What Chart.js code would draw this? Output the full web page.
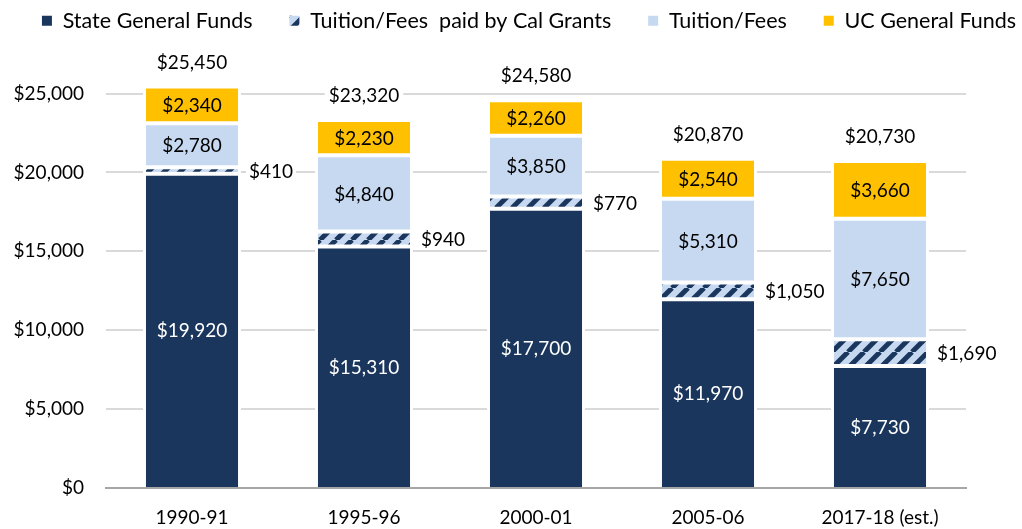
<!DOCTYPE html>
<html>
<head>
<meta charset="utf-8">
<script src="https://cdn.jsdelivr.net/npm/chart.js@4.4.0/dist/chart.umd.min.js"></script>
<style>
    html, body { margin: 0; padding: 0; background: #fff; }
    #wrap { width: 1022px; height: 529px; }
</style>
</head>
<body>
<div id="wrap"><canvas id="fundChart"></canvas></div>
<script>
const years = ['1990-91', '1995-96', '2000-01', '2005-06', '2017-18 (est.)'];
const stateFunds = [19920, 15310, 17700, 11970, 7730];
const calGrants = [410, 940, 770, 1050, 1690];
const tuitionFees = [2780, 4840, 3850, 5310, 7650];
const ucFunds = [2340, 2230, 2260, 2540, 3660];
const totals = [25450, 23320, 24580, 20870, 20730];
const yTicks = [0, 5000, 10000, 15000, 20000, 25000];

const NAVY = '#1b365d';
const LIGHT = '#c6d9f1';
const GOLD = '#ffc000';
const FONT = 'Lato';
const LEGEND_GAP = '\u2003\u2002'; // extra room after each legend entry

function fmt(v) {
    return '$' + v.toLocaleString('en-US');
}

function makeHatch() {
    const c = document.createElement('canvas');
    c.width = 16; c.height = 16;
    const g = c.getContext('2d');
    g.fillStyle = LIGHT;
    g.fillRect(0, 0, 16, 16);
    g.strokeStyle = NAVY;
    g.lineWidth = 5;
    g.beginPath();
    for (let k = -16; k <= 32; k += 16) {
        g.moveTo(k, 16);
        g.lineTo(k + 16, 0);
    }
    g.stroke();
    return g.createPattern(c, 'repeat');
}

// legend sits a bit right of the canvas centre in the original
const legendShift = {
    id: 'legendShift',
    afterLayout(chart) {
        chart.legend.left += 18;
        chart.legend.right += 18;
    }
};

// value labels inside / beside the bars, plus totals on top
const barLabels = {
    id: 'barLabels',
    afterDatasetsDraw(chart) {
        const ctx = chart.ctx;
        ctx.save();
        ctx.font = '19px ' + FONT;
        ctx.textBaseline = 'middle';
        chart.data.datasets.forEach((ds, di) => {
            const meta = chart.getDatasetMeta(di);
            meta.data.forEach((bar, i) => {
                const p = bar.getProps(['x', 'y', 'base', 'width'], true);
                const midY = (p.y + p.base) / 2;
                const txt = fmt(ds.data[i]);
                if (di === 1) {
                    const tx = p.x + p.width / 2 + 8;
                    const w = ctx.measureText(txt).width;
                    ctx.fillStyle = '#fff';
                    ctx.fillRect(tx - 3, midY - 11, w + 6, 22);
                    ctx.fillStyle = '#000';
                    ctx.textAlign = 'left';
                    ctx.fillText(txt, tx, midY + 1);
                } else {
                    ctx.fillStyle = di === 0 ? '#fff' : '#000';
                    ctx.textAlign = 'center';
                    ctx.fillText(txt, p.x, midY + 1);
                }
            });
        });
        const topMeta = chart.getDatasetMeta(3);
        topMeta.data.forEach((bar, i) => {
            const p = bar.getProps(['x', 'y'], true);
            const txt = fmt(totals[i]);
            const w = ctx.measureText(txt).width;
            const ty = p.y - 24;
            ctx.fillStyle = '#fff';
            ctx.fillRect(p.x - w / 2 - 4, ty - 11, w + 8, 22);
            ctx.fillStyle = '#000';
            ctx.textAlign = 'center';
            ctx.fillText(txt, p.x, ty);
        });
        ctx.restore();
    }
};

const segBorder = { top: 2, bottom: 2, left: 3, right: 3 };

new Chart(document.getElementById('fundChart'), {
    type: 'bar',
    data: {
        labels: years,
        datasets: [
            { label: 'State General Funds', data: stateFunds, backgroundColor: NAVY, borderSkipped: 'start' },
            { label: 'Tuition/Fees  paid by Cal Grants', data: calGrants, backgroundColor: makeHatch(), borderSkipped: false },
            { label: 'Tuition/Fees', data: tuitionFees, backgroundColor: LIGHT, borderSkipped: false },
            { label: 'UC General Funds', data: ucFunds, backgroundColor: GOLD, borderSkipped: false }
        ]
    },
    options: {
        responsive: true,
        maintainAspectRatio: false,
        animation: false,
        datasets: {
            bar: {
                borderColor: '#fff',
                borderWidth: segBorder,
                barPercentage: 1,
                categoryPercentage: 0.57
            }
        },
        layout: { padding: 0 },
        plugins: {
            tooltip: { enabled: false },
            legend: {
                position: 'top',
                labels: {
                    boxWidth: 10,
                    boxHeight: 10,
                    padding: 10,
                    color: '#000',
                    font: { family: FONT, size: 21.5 },
                    generateLabels(chart) {
                        const n = chart.data.datasets.length;
                        return chart.data.datasets.map((ds, i) => ({
                            text: i < n - 1 ? ds.label + LEGEND_GAP : ds.label,
                            fillStyle: ds.backgroundColor,
                            strokeStyle: ds.backgroundColor,
                            lineWidth: 0,
                            datasetIndex: i
                        }));
                    }
                }
            }
        },
        scales: {
            x: {
                stacked: true,
                grid: { display: false, drawTicks: false },
                border: { display: true, color: '#a6a6a6', width: 2 },
                ticks: { color: '#000', padding: 18, font: { family: FONT, size: 19 } },
                afterFit(scale) {
                    scale.height = 41;
                }
            },
            y: {
                stacked: true,
                min: 0,
                max: 28299,
                afterBuildTicks(scale) {
                    scale.ticks = yTicks.map(v => ({ value: v }));
                },
                afterFit(scale) {
                    scale.width = 106;
                },
                grid: { color: '#d9d9d9', lineWidth: 2, drawTicks: false },
                border: { display: false },
                ticks: {
                    color: '#000',
                    padding: 22,
                    font: { family: FONT, size: 19 },
                    callback: v => fmt(v)
                }
            },
            yRight: {
                position: 'right',
                grid: { display: false },
                border: { display: false },
                ticks: { display: false },
                afterFit(scale) {
                    scale.width = 56;
                }
            }
        }
    },
    plugins: [legendShift, barLabels]
});
</script>
</body>
</html>
